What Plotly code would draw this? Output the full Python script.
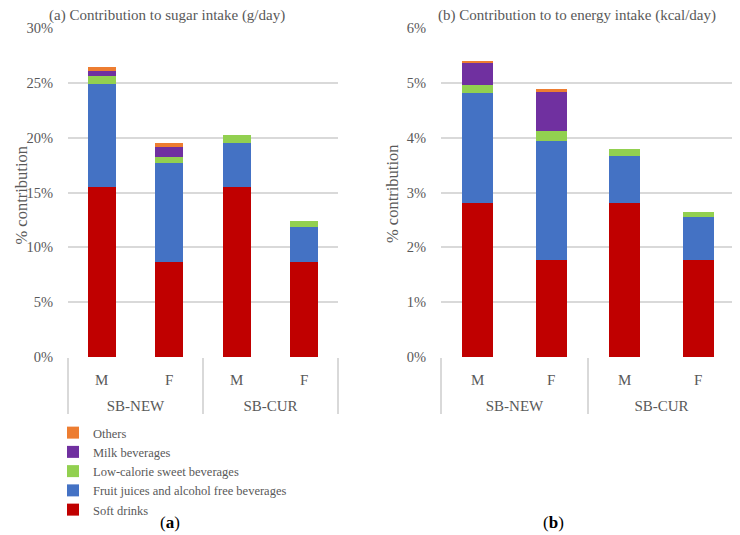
import plotly.graph_objects as go

groups = ["SB-NEW", "SB-NEW", "SB-CUR", "SB-CUR"]
sexes = ["M", "F", "M", "F"]

series_names = ["Soft drinks", "Fruit juices and alcohol free beverages",
                "Low-calorie sweet beverages", "Milk beverages", "Others"]
series_colors = ["#C00000", "#4472C4", "#92D050", "#7030A0", "#ED7D31"]

# (a) Contribution to sugar intake, % of total
sugar_soft = [15.5, 8.7, 15.5, 8.7]
sugar_fruit = [9.4, 9.0, 4.0, 3.2]
sugar_lowcal = [0.7, 0.55, 0.7, 0.5]
sugar_milk = [0.5, 0.9, 0.0, 0.0]
sugar_others = [0.3, 0.35, 0.0, 0.0]

# (b) Contribution to energy intake, % of total
energy_soft = [2.81, 1.76, 2.81, 1.76]
energy_fruit = [2.0, 2.18, 0.85, 0.79]
energy_lowcal = [0.15, 0.18, 0.14, 0.1]
energy_milk = [0.41, 0.72, 0.0, 0.0]
energy_others = [0.03, 0.05, 0.0, 0.0]

sugar = [sugar_soft, sugar_fruit, sugar_lowcal, sugar_milk, sugar_others]
energy = [energy_soft, energy_fruit, energy_lowcal, energy_milk, energy_others]

FONT = "Liberation Serif"
GRAY = "#595959"
GRID = "#D9D9D9"

# page has an 8px body margin: figure occupies screen (8..740, 8..535)
OX, OY = 8, 8
W, H = 740 - OX, 535 - OY


def px(x):
    return (x - OX) / W


def py(y):
    return 1 - (y - OY) / H


# inner labels carry a small blank second line to space the two category levels
inner = [s + "<br><span style='font-size:12px'>\u00a0</span>" for s in sexes]
xcat = [groups, inner]

fig = go.Figure()
for name, color, vals in zip(series_names, series_colors, sugar):
    fig.add_trace(go.Bar(x=xcat, y=vals, name=name, marker_color=color,
                         marker_line_width=0, xaxis="x", yaxis="y",
                         showlegend=True))
for name, color, vals in zip(series_names, series_colors, energy):
    fig.add_trace(go.Bar(x=xcat, y=vals, name=name, marker_color=color,
                         marker_line_width=0, xaxis="x2", yaxis="y2",
                         showlegend=False))

ydom = [py(357), py(28)]

xaxis_common = dict(type="multicategory", showdividers=True, dividercolor=GRID,
                    dividerwidth=1.5, tickfont=dict(family=FONT, size=15, color=GRAY),
                    showline=False, ticks="", ticklabelstandoff=12,
                    automargin=False, fixedrange=True)
yaxis_common = dict(showgrid=True, gridcolor=GRID, gridwidth=1.5, zeroline=False,
                    ticksuffix="%", tickfont=dict(family=FONT, size=14.5, color=GRAY),
                    ticklabelstandoff=14, automargin=False, showline=False)

title_font = dict(family=FONT, size=15, color=GRAY)
ytitle_font = dict(family=FONT, size=16.5, color=GRAY)

fig.update_layout(
    width=W, height=H,
    margin=dict(l=0, r=0, t=0, b=0),
    paper_bgcolor="white", plot_bgcolor="white",
    barmode="stack", bargap=0.58,
    xaxis=dict(domain=[px(68), px(338)], anchor="y", **xaxis_common),
    yaxis=dict(domain=ydom, anchor="x", range=[0, 30], dtick=5, **yaxis_common),
    xaxis2=dict(domain=[px(441), px(735)], anchor="y2", **xaxis_common),
    yaxis2=dict(domain=ydom, anchor="x2", range=[0, 6], dtick=1, **yaxis_common),
    legend=dict(x=px(53), y=py(418), xanchor="left", yanchor="top",
                traceorder="reversed", font=dict(family=FONT, size=12.5, color=GRAY),
                itemwidth=30, bgcolor="rgba(0,0,0,0)", tracegroupgap=0),
    showlegend=True,
    annotations=[
        dict(text="(a) Contribution to sugar intake (g/day)", x=px(167), y=py(16),
             xref="paper", yref="paper", showarrow=False, xanchor="center", yanchor="middle",
             font=title_font),
        dict(text="(b) Contribution to to energy intake (kcal/day)", x=px(577), y=py(16),
             xref="paper", yref="paper", showarrow=False, xanchor="center", yanchor="middle",
             font=title_font),
        dict(text="% contribution", x=px(9), y=py(195), textangle=-90,
             xref="paper", yref="paper", showarrow=False, xanchor="left", yanchor="middle",
             font=ytitle_font),
        dict(text="% contribution", x=px(392), y=py(194), textangle=-90,
             xref="paper", yref="paper", showarrow=False, xanchor="center", yanchor="middle",
             font=ytitle_font),
        dict(text="(<b>a</b>)", x=px(170), y=py(522),
             xref="paper", yref="paper", showarrow=False, xanchor="center", yanchor="middle",
             font=dict(family=FONT, size=17, color="black")),
        dict(text="(<b>b</b>)", x=px(553), y=py(522),
             xref="paper", yref="paper", showarrow=False, xanchor="center", yanchor="middle",
             font=dict(family=FONT, size=17, color="black")),
    ],
)

fig.write_html("out.html")
